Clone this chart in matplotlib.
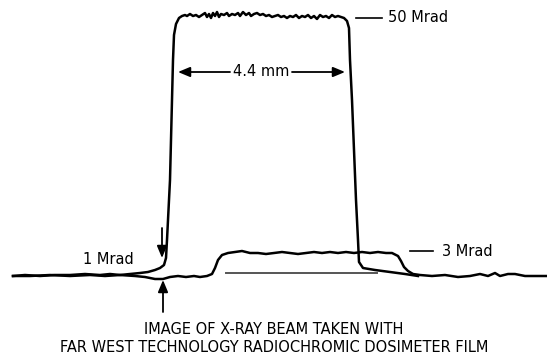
import matplotlib.pyplot as plt

# beam profile traces (position, height in image units)
beam_x = [13, 25, 40, 55, 70, 85, 100, 110, 120, 130, 140, 148, 155, 160, 164, 166, 167, 168, 170, 171, 172, 173, 174, 176,
          179, 182, 185, 187, 190, 193, 196, 199, 202, 205, 207, 209, 211, 213, 215, 217, 219, 221, 224, 227, 229, 232, 235,
          238, 240, 243, 246, 249, 251, 254, 257, 260, 263, 266, 269, 272, 275, 278, 281, 284, 287, 290, 293, 296, 299,
          302, 305, 308, 311, 314, 317, 320, 323, 326, 329, 332, 335, 338, 341, 344, 347, 349, 350, 352, 354, 356, 358,
          359, 363, 375, 390, 405, 418]
beam_y = [276, 275, 276, 275, 275, 274, 275, 274, 275, 274, 273, 272, 270, 268, 265, 258, 240, 220, 180, 140, 100, 60, 35, 24,
          18, 16, 15, 16, 14, 16, 15, 17, 15, 13, 17, 14, 18, 13, 16, 12, 17, 14, 15, 13, 16, 14, 15,
          13, 16, 12, 15, 13, 16, 14, 13, 15, 14, 16, 15, 17, 16, 15, 17, 16, 18, 16, 17, 15, 18,
          16, 17, 15, 18, 16, 19, 15, 17, 16, 18, 15, 17, 16, 17, 18, 21, 28, 60, 100, 150, 200, 240,
          262, 268, 270, 272, 274, 276]

low_x = [13, 30, 50, 70, 90, 105, 120, 135, 145, 155, 163, 170, 178, 186, 194, 200, 207, 212, 215, 218, 222, 228, 235,
         242, 250, 258, 266, 274, 282, 290, 298, 306, 314, 322, 330, 338, 346, 354, 362, 370, 378, 386, 392, 398, 401,
         404, 408, 413, 420, 432, 445, 458, 470, 480, 488, 495, 500, 508, 515, 525, 535, 547]
low_y = [276, 276, 275, 276, 275, 276, 275, 276, 277, 279, 279, 277, 276, 277, 276, 277, 276, 274, 268, 260, 255, 253, 252,
         251, 253, 253, 254, 253, 252, 253, 254, 253, 252, 253, 252, 253, 252, 253, 252, 253, 252, 253, 253, 256, 261,
         267, 271, 274, 275, 276, 275, 277, 276, 274, 276, 273, 276, 274, 274, 276, 276, 276]

ref_x = [226, 377]
ref_y = [273, 273]

caption = ['IMAGE OF X-RAY BEAM TAKEN WITH', 'FAR WEST TECHNOLOGY RADIOCHROMIC DOSIMETER FILM']

fig = plt.figure(figsize=(5.47, 3.59), dpi=100)
ax = fig.add_axes([0, 0, 1, 1])
ax.set_xlim(0, 547)
ax.set_ylim(359, 0)
ax.axis('off')

ax.plot(beam_x, beam_y, color='black', linewidth=1.8, solid_joinstyle='round')
ax.plot(low_x, low_y, color='black', linewidth=1.8, solid_joinstyle='round')
ax.plot(ref_x, ref_y, color='#555555', linewidth=1.4)

fs = 10.5
arrow = dict(arrowstyle='-|>,head_length=0.6,head_width=0.25', color='black', linewidth=1.3,
             mutation_scale=12, shrinkA=0, shrinkB=0)

# width of the beam
ax.text(261, 72, '4.4 mm', ha='center', va='center', fontsize=fs)
ax.annotate('', xy=(178, 72), xytext=(230, 72), arrowprops=arrow)
ax.annotate('', xy=(345, 72), xytext=(292, 72), arrowprops=arrow)

# dose labels
ax.plot([356, 382], [18, 18], color='black', linewidth=1.2)
ax.text(388, 18, '50 Mrad', ha='left', va='center', fontsize=fs)
ax.plot([410, 433], [251, 251], color='black', linewidth=1.2)
ax.text(442, 251, '3 Mrad', ha='left', va='center', fontsize=fs)
ax.text(108, 260, '1 Mrad', ha='center', va='center', fontsize=fs)

# markers at the beam edge
ax.annotate('', xy=(162, 258), xytext=(162, 228), arrowprops=arrow)
ax.annotate('', xy=(163, 280), xytext=(163, 312), arrowprops=arrow)

ax.text(274, 329, caption[0], ha='center', va='center', fontsize=fs)
ax.text(274, 348, caption[1], ha='center', va='center', fontsize=fs)

plt.savefig('out.png', dpi=100)
